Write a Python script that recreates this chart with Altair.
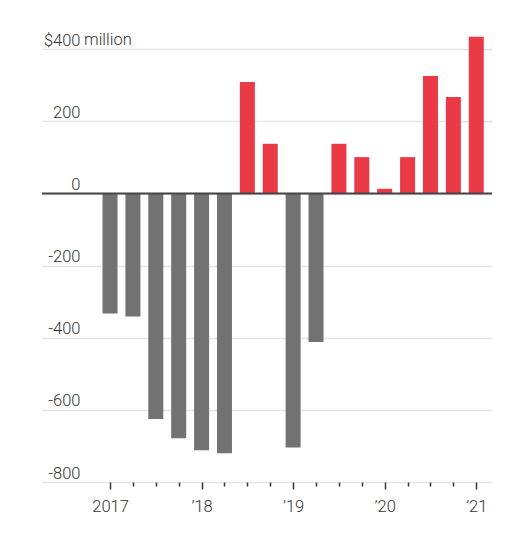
import altair as alt
import pandas as pd

# quarterly net flows, $ million
years = [2017, 2017, 2017, 2017, 2018, 2018, 2018, 2018,
         2019, 2019, 2019, 2019, 2020, 2020, 2020, 2020, 2021]
quarters = [1, 2, 3, 4, 1, 2, 3, 4, 1, 2, 3, 4, 1, 2, 3, 4, 1]
net_flows = [-333, -341, -625, -679, -712, -720, 309, 138,
             -704, -412, 138, 101, 13, 101, 326, 268, 435]

y_ticks = [-800, -600, -400, -200, 0, 200, 400]
x_ticks = [2017, 2017.25, 2017.5, 2017.75, 2018, 2018.25, 2018.5, 2018.75,
           2019, 2019.25, 2019.5, 2019.75, 2020, 2020.25, 2020.5, 2020.75, 2021]

RED = "#e93a45"
GRAY = "#727272"
FONT = "Roboto"

df = pd.DataFrame({"year": years, "quarter": quarters, "value": net_flows})
df["t"] = df["year"] + (df["quarter"] - 1) / 4

x_axis = alt.Axis(
    values=x_ticks, title=None, domain=False, grid=False,
    ticks=True, tickColor="#333", tickWidth=1.5,
    tickSize={"condition": {"test": "datum.value % 1 === 0", "value": 7}, "value": 4},
    labelExpr="datum.value === 2017 ? '2017' : (datum.value % 1 === 0 ? '\u2019' + substring(toString(datum.value), 2, 4) : '')",
    labelFont=FONT, labelFontSize=16.5, labelColor="#333", labelFontWeight=300,
    labelBaseline="alphabetic", labelPadding=22, labelOverlap=False, labelFlush=False,
)

y_axis = alt.Axis(
    values=y_ticks, title=None, domain=False, ticks=False, tickSize=0,
    grid=True, gridColor="#e4e4e4", gridWidth=1.5,
    labelExpr="datum.value == 400 ? '$400' : toString(datum.value)",
    labelFont=FONT, labelFontSize=16.5, labelColor="#333", labelFontWeight=300,
    labelAlign="right", labelBaseline="alphabetic", labelPadding=-38, labelOffset=-4,
)

bars = alt.Chart(df).mark_bar(size=15).encode(
    x=alt.X("t:Q", axis=x_axis,
            scale=alt.Scale(domain=[2016.257, 2021.172], nice=False, zero=False, padding=0)),
    y=alt.Y("value:Q", axis=y_axis,
            scale=alt.Scale(domain=[-800, 448], nice=False, padding=0)),
    color=alt.condition("datum.value > 0", alt.value(RED), alt.value(GRAY)),
)

zero_line = alt.Chart(pd.DataFrame({"v": [0]})).mark_rule(
    color="#444", strokeWidth=2
).encode(y=alt.Y("v:Q"))

million = alt.Chart(pd.DataFrame({"v": [400]})).mark_text(
    text="million", align="left", baseline="alphabetic", dy=-4,
    font=FONT, fontSize=16.5, fontWeight=300, color="#333"
).encode(x=alt.value(42), y=alt.Y("v:Q"))

chart = alt.layer(bars, zero_line, million).properties(
    width=450, height=450,
    autosize="none",
    padding={"left": 34, "top": 24, "right": 24, "bottom": 40},
    background="white",
).configure_view(stroke=None)

chart.save("out.html", embed_options={"renderer": "svg", "actions": False})
